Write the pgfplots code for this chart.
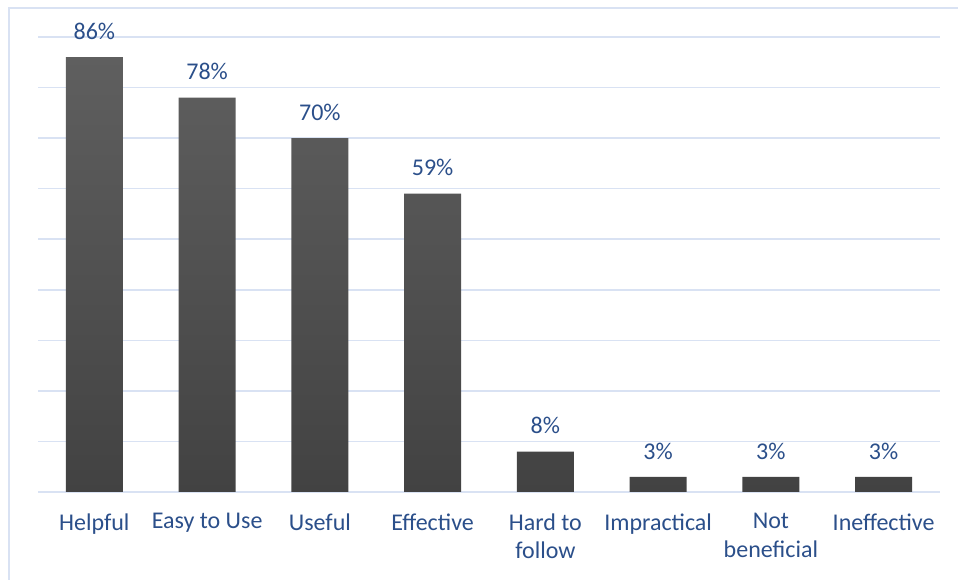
\documentclass[border=0pt]{standalone}
\usepackage{fontspec}
\setmainfont{Carlito}
\usepackage{pgfplots}
\pgfplotsset{compat=1.18}
\definecolor{gridblue}{RGB}{217,226,243}
\definecolor{labelblue}{RGB}{43,79,138}
\definecolor{bartop}{RGB}{95,95,95}
\definecolor{barbot}{RGB}{66,66,66}
\newcommand{\chartfont}{\fontsize{24}{28.5}\selectfont}

\begin{document}
\begin{tikzpicture}
\useasboundingbox (-38pt,-88pt) rectangle (920pt,492pt);
% chart area frame (cropped at right and bottom)
\draw[gridblue, line width=1.5pt] (-29pt,-95pt) -- (-29pt,484pt) -- (930pt,484pt);
\begin{axis}[
    at={(0pt,0pt)},
    anchor=south west,
    scale only axis,
    width=902pt,
    height=455pt,
    xmin=-0.5, xmax=7.5,
    ymin=0, ymax=90,
    axis line style={draw=none},
    tick style={draw=none},
    major tick length=0pt,
    ytick={0,10,...,90},
    yticklabel=\empty,
    ymajorgrids,
    grid style={gridblue, line width=1.5pt},
    xtick={0,...,7},
    xticklabels={Helpful, Easy to Use, Useful, Effective, Hard to\\follow, Impractical, Not\\beneficial, Ineffective},
    xticklabel style={align=center, text=labelblue, font=\chartfont, yshift=-18pt},
    ybar,
    bar width=57pt,
    nodes near coords={\pgfmathprintnumber[assume math mode=true]{\pgfplotspointmeta}\%},
    every node near coord/.append style={text=labelblue, font=\chartfont, yshift=14pt},
]
\addplot[draw=none, top color=bartop, bottom color=barbot] coordinates {
(0,86) (1,78) (2,70) (3,59) (4,8) (5,3) (6,3) (7,3)
};
\end{axis}
\end{tikzpicture}
\end{document}
